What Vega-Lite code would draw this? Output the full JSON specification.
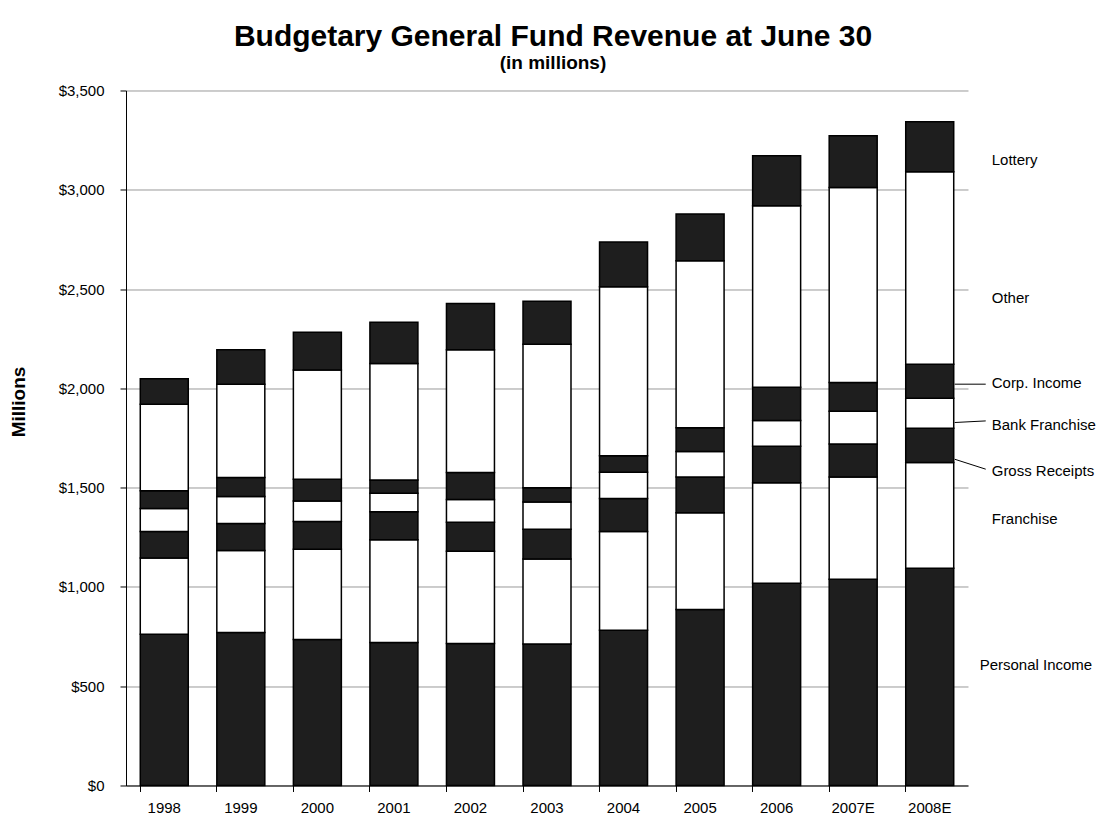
{
  "$schema": "https://vega.github.io/schema/vega-lite/v6.json",
  "width": 842,
  "height": 695,
  "autosize": {"type": "none"},
  "padding": {"left": 126, "top": 90.5, "right": 138, "bottom": 34.3},
  "background": "white",
  "config": {
    "font": "Liberation Sans",
    "view": {"stroke": null}
  },
  "title": {
    "text": "Budgetary General Fund Revenue at June 30",
    "subtitle": "(in millions)",
    "font": "Liberation Sans",
    "subtitleFont": "Liberation Sans",
    "fontSize": 30,
    "fontWeight": "bold",
    "subtitleFontSize": 19,
    "subtitleFontWeight": "bold",
    "color": "black",
    "subtitleColor": "black",
    "anchor": "middle",
    "dx": 6,
    "offset": 10,
    "subtitlePadding": 2
  },
  "datasets": {
    "rev": [
      {"year": "1998", "type": "Personal Income", "value": 762},
      {"year": "1998", "type": "Franchise", "value": 384},
      {"year": "1998", "type": "Gross Receipts", "value": 133},
      {"year": "1998", "type": "Bank Franchise", "value": 116},
      {"year": "1998", "type": "Corp. Income", "value": 89},
      {"year": "1998", "type": "Other", "value": 436},
      {"year": "1998", "type": "Lottery", "value": 129},
      {"year": "1999", "type": "Personal Income", "value": 770},
      {"year": "1999", "type": "Franchise", "value": 413},
      {"year": "1999", "type": "Gross Receipts", "value": 136},
      {"year": "1999", "type": "Bank Franchise", "value": 136},
      {"year": "1999", "type": "Corp. Income", "value": 96},
      {"year": "1999", "type": "Other", "value": 470},
      {"year": "1999", "type": "Lottery", "value": 174},
      {"year": "2000", "type": "Personal Income", "value": 735},
      {"year": "2000", "type": "Franchise", "value": 455},
      {"year": "2000", "type": "Gross Receipts", "value": 139},
      {"year": "2000", "type": "Bank Franchise", "value": 104},
      {"year": "2000", "type": "Corp. Income", "value": 109},
      {"year": "2000", "type": "Other", "value": 551},
      {"year": "2000", "type": "Lottery", "value": 190},
      {"year": "2001", "type": "Personal Income", "value": 720},
      {"year": "2001", "type": "Franchise", "value": 517},
      {"year": "2001", "type": "Gross Receipts", "value": 141},
      {"year": "2001", "type": "Bank Franchise", "value": 94},
      {"year": "2001", "type": "Corp. Income", "value": 67},
      {"year": "2001", "type": "Other", "value": 586},
      {"year": "2001", "type": "Lottery", "value": 208},
      {"year": "2002", "type": "Personal Income", "value": 715},
      {"year": "2002", "type": "Franchise", "value": 465},
      {"year": "2002", "type": "Gross Receipts", "value": 146},
      {"year": "2002", "type": "Bank Franchise", "value": 114},
      {"year": "2002", "type": "Corp. Income", "value": 136},
      {"year": "2002", "type": "Other", "value": 618},
      {"year": "2002", "type": "Lottery", "value": 233},
      {"year": "2003", "type": "Personal Income", "value": 712},
      {"year": "2003", "type": "Franchise", "value": 429},
      {"year": "2003", "type": "Gross Receipts", "value": 150},
      {"year": "2003", "type": "Bank Franchise", "value": 137},
      {"year": "2003", "type": "Corp. Income", "value": 72},
      {"year": "2003", "type": "Other", "value": 722},
      {"year": "2003", "type": "Lottery", "value": 217},
      {"year": "2004", "type": "Personal Income", "value": 782},
      {"year": "2004", "type": "Franchise", "value": 497},
      {"year": "2004", "type": "Gross Receipts", "value": 166},
      {"year": "2004", "type": "Bank Franchise", "value": 133},
      {"year": "2004", "type": "Corp. Income", "value": 83},
      {"year": "2004", "type": "Other", "value": 851},
      {"year": "2004", "type": "Lottery", "value": 225},
      {"year": "2005", "type": "Personal Income", "value": 886},
      {"year": "2005", "type": "Franchise", "value": 487},
      {"year": "2005", "type": "Gross Receipts", "value": 180},
      {"year": "2005", "type": "Bank Franchise", "value": 129},
      {"year": "2005", "type": "Corp. Income", "value": 119},
      {"year": "2005", "type": "Other", "value": 842},
      {"year": "2005", "type": "Lottery", "value": 235},
      {"year": "2006", "type": "Personal Income", "value": 1019},
      {"year": "2006", "type": "Franchise", "value": 506},
      {"year": "2006", "type": "Gross Receipts", "value": 184},
      {"year": "2006", "type": "Bank Franchise", "value": 129},
      {"year": "2006", "type": "Corp. Income", "value": 168},
      {"year": "2006", "type": "Other", "value": 914},
      {"year": "2006", "type": "Lottery", "value": 252},
      {"year": "2007E", "type": "Personal Income", "value": 1039},
      {"year": "2007E", "type": "Franchise", "value": 515},
      {"year": "2007E", "type": "Gross Receipts", "value": 166},
      {"year": "2007E", "type": "Bank Franchise", "value": 165},
      {"year": "2007E", "type": "Corp. Income", "value": 144},
      {"year": "2007E", "type": "Other", "value": 982},
      {"year": "2007E", "type": "Lottery", "value": 261},
      {"year": "2008E", "type": "Personal Income", "value": 1094},
      {"year": "2008E", "type": "Franchise", "value": 532},
      {"year": "2008E", "type": "Gross Receipts", "value": 173},
      {"year": "2008E", "type": "Bank Franchise", "value": 151},
      {"year": "2008E", "type": "Corp. Income", "value": 171},
      {"year": "2008E", "type": "Other", "value": 970},
      {"year": "2008E", "type": "Lottery", "value": 252}
    ],
    "labels": [
      {"year": "2008E", "label": "Lottery", "pos": 3150},
      {"year": "2008E", "label": "Other", "pos": 2457},
      {"year": "2008E", "label": "Corp. Income", "pos": 2029},
      {"year": "2008E", "label": "Bank Franchise", "pos": 1816},
      {"year": "2008E", "label": "Gross Receipts", "pos": 1586},
      {"year": "2008E", "label": "Franchise", "pos": 1341},
      {"year": "2008E", "label": "Personal Income", "pos": 608}
    ],
    "leaders": [
      {"year": "2008E", "label": "Corp. Income", "from": 2021, "to": 2021},
      {"year": "2008E", "label": "Bank Franchise", "from": 1828, "to": 1836},
      {"year": "2008E", "label": "Gross Receipts", "from": 1643, "to": 1593}
    ]
  },
  "layer": [
    {
      "data": {"name": "rev"},
      "transform": [
        {"calculate": "indexof(['Personal Income','Franchise','Gross Receipts','Bank Franchise','Corp. Income','Other','Lottery'], datum.type)", "as": "k"}
      ],
      "mark": {"type": "bar", "stroke": "black", "strokeWidth": 1.5},
      "encoding": {
        "x": {
          "field": "year",
          "type": "ordinal",
          "sort": null,
          "scale": {"paddingInner": 0.373, "paddingOuter": 0.1865},
          "axis": {
            "title": null,
            "grid": false,
            "bandPosition": 0,
            "labelAngle": 0,
            "tickSize": 6,
            "tickColor": "black",
            "domainColor": "black",
            "labelFontSize": 15,
            "labelColor": "black",
            "labelPadding": 9
          }
        },
        "y": {
          "field": "value",
          "type": "quantitative",
          "stack": "zero",
          "scale": {"domain": [0, 3500], "nice": false},
          "axis": {
            "title": "Millions",
            "values": [0, 500, 1000, 1500, 2000, 2500, 3000, 3500],
            "format": "$,.0f",
            "grid": true,
            "gridColor": "#9a9a9a",
            "gridWidth": 1,
            "tickSize": 6,
            "tickColor": "black",
            "domainColor": "black",
            "labelFontSize": 15,
            "labelColor": "black",
            "labelPadding": 16,
            "titleFontSize": 19,
            "titleFontWeight": "bold",
            "titleColor": "black",
            "titleAngle": -90,
            "titleX": -108,
            "titleY": 311,
            "titleAlign": "center",
            "titleBaseline": "middle"
          }
        },
        "color": {
          "field": "type",
          "type": "nominal",
          "scale": {
            "domain": ["Personal Income", "Franchise", "Gross Receipts", "Bank Franchise", "Corp. Income", "Other", "Lottery"],
            "range": ["#1e1e1e", "#ffffff", "#1e1e1e", "#ffffff", "#1e1e1e", "#ffffff", "#1e1e1e"]
          },
          "legend": null
        },
        "order": {"field": "k", "type": "quantitative", "sort": "ascending"}
      }
    },
    {
      "data": {"name": "leaders"},
      "mark": {"type": "rule", "color": "black", "strokeWidth": 1, "xOffset": 25, "x2Offset": 56},
      "encoding": {
        "x": {"field": "year", "type": "ordinal"},
        "x2": {"field": "year"},
        "y": {"field": "from", "type": "quantitative"},
        "y2": {"field": "to"}
      }
    },
    {
      "data": {"name": "labels"},
      "transform": [{"filter": "datum.label !== 'Personal Income'"}],
      "mark": {"type": "text", "align": "left", "baseline": "middle", "dx": 62, "fontSize": 15, "color": "black"},
      "encoding": {
        "x": {"field": "year", "type": "ordinal"},
        "y": {"field": "pos", "type": "quantitative"},
        "text": {"field": "label"}
      }
    },
    {
      "data": {"name": "labels"},
      "transform": [{"filter": "datum.label === 'Personal Income'"}],
      "mark": {"type": "text", "align": "left", "baseline": "middle", "dx": 50, "fontSize": 15, "color": "black"},
      "encoding": {
        "x": {"field": "year", "type": "ordinal"},
        "y": {"field": "pos", "type": "quantitative"},
        "text": {"field": "label"}
      }
    }
  ]
}
